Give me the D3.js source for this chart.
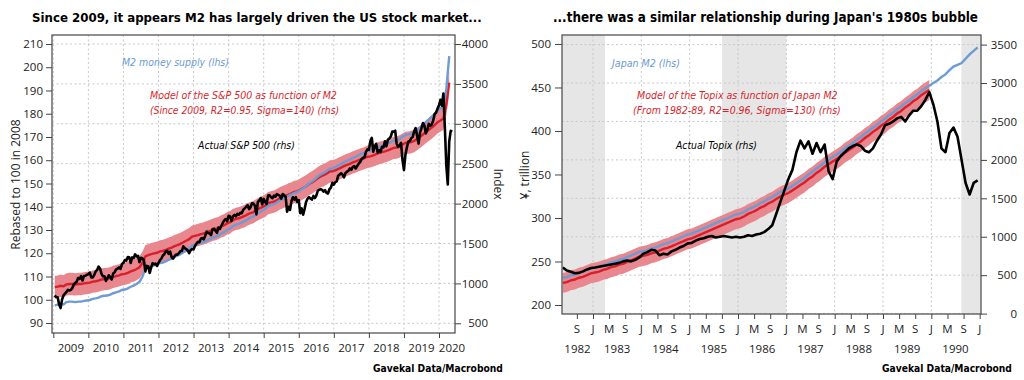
<!DOCTYPE html>
<html>
<head>
<meta charset="utf-8">
<script src="https://cdn.jsdelivr.net/npm/d3@7"></script>
<style>
  body { margin: 0; background: #fff; }
  svg { display: block; }
</style>
</head>
<body>
<div id="chart"></div>
<script>
// ---------- data: US (left panel) ----------
// monthly, Jan 2009 .. Apr 2020, rebased (lhs)
const usM2 = [
  97.6, 97.9, 98.3, 98.0, 99.0, 99.2, 99.2, 99.0, 99.2, 99.2, 99.5, 99.7,
  99.9, 100.4, 100.6, 100.9, 101.5, 101.7, 101.8, 102.2, 102.8, 103.2, 103.6, 104.2,
  104.4, 104.9, 105.6, 106.1, 106.8, 107.7, 109.9, 113.2, 113.9, 114.4, 114.8, 115.1,
  115.8, 116.0, 116.5, 117.2, 117.7, 118.4, 119.0, 119.6, 120.4, 121.2, 122.0, 123.3,
  123.7, 124.1, 124.6, 124.9, 125.5, 126.1, 126.7, 127.2, 127.6, 128.5, 129.1, 130.0,
  130.6, 131.7, 132.3, 132.6, 133.2, 133.8, 134.6, 135.3, 135.8, 136.8, 137.6, 138.3,
  139.0, 140.3, 140.7, 141.1, 141.8, 142.7, 143.3, 144.0, 144.7, 145.3, 146.0, 146.3,
  147.1, 148.0, 148.9, 150.0, 150.8, 151.8, 153.0, 153.9, 154.5, 155.3, 156.3, 156.5,
  157.0, 157.7, 158.4, 159.1, 159.8, 160.3, 161.0, 161.5, 162.2, 162.7, 163.2, 163.9,
  164.1, 164.6, 165.2, 165.8, 166.2, 166.6, 167.2, 167.8, 168.4, 168.6, 169.1, 170.1,
  170.9, 171.1, 171.4, 171.9, 172.9, 174.0, 175.2, 176.4, 177.6, 178.8, 180.0, 181.4,
  182.3, 183.3, 190.6, 204.8
];
// monthly, Jan 2009 .. Apr 2020, model of S&P 500 (rhs)
const spModel = [
  953, 960, 970, 963, 987, 992, 992, 987, 992, 992, 1000, 1005,
  1010, 1022, 1027, 1034, 1049, 1054, 1056, 1066, 1081, 1091, 1101, 1115,
  1120, 1133, 1150, 1162, 1180, 1202, 1256, 1337, 1355, 1367, 1377, 1384,
  1401, 1406, 1419, 1436, 1448, 1466, 1480, 1495, 1515, 1535, 1554, 1586,
  1596, 1606, 1618, 1626, 1641, 1655, 1670, 1682, 1692, 1715, 1729, 1752,
  1766, 1793, 1808, 1816, 1830, 1845, 1865, 1882, 1894, 1919, 1939, 1956,
  1973, 2005, 2015, 2025, 2042, 2065, 2079, 2097, 2114, 2129, 2146, 2153,
  2173, 2195, 2217, 2245, 2264, 2289, 2318, 2341, 2355, 2375, 2400, 2405,
  2417, 2434, 2451, 2469, 2486, 2498, 2516, 2528, 2545, 2558, 2570, 2587,
  2592, 2604, 2619, 2634, 2644, 2654, 2668, 2683, 2698, 2703, 2715, 2740,
  2760, 2765, 2772, 2784, 2809, 2836, 2866, 2895, 2925, 2954, 2984, 3019,
  3041, 3065, 3245, 3515
];
// twice a month (mid, end), Jan 2009 .. early May 2020, S&P 500 (rhs)
const spx = [
  850, 826, 827, 735, 690, 798, 850, 873, 893, 919, 911, 919, 940, 987, 1005, 1021, 1068, 1057, 1090, 1036, 1093, 1096, 1108, 1115,
  1136, 1074, 1075, 1104, 1150, 1169, 1210, 1187, 1120, 1089, 1090, 1031, 1064, 1102, 1080, 1049, 1125, 1141, 1176, 1183, 1200, 1181, 1241, 1258,
  1293, 1286, 1330, 1327, 1256, 1326, 1319, 1364, 1338, 1345, 1267, 1321, 1316, 1292, 1150, 1219, 1216, 1131, 1200, 1253, 1240, 1247, 1220, 1258,
  1290, 1312, 1350, 1366, 1400, 1408, 1370, 1398, 1330, 1310, 1340, 1362, 1360, 1379, 1405, 1407, 1465, 1441, 1430, 1412, 1380, 1416, 1430, 1426,
  1472, 1498, 1520, 1515, 1560, 1569, 1552, 1598, 1650, 1631, 1626, 1606, 1680, 1686, 1661, 1633, 1700, 1682, 1720, 1757, 1790, 1806, 1780, 1848,
  1840, 1783, 1840, 1859, 1840, 1872, 1860, 1884, 1880, 1924, 1940, 1960, 1980, 1931, 1955, 2003, 2000, 1972, 1865, 2018, 2040, 2068, 1990, 2059,
  2020, 1995, 2100, 2105, 2080, 2068, 2100, 2086, 2120, 2107, 2100, 2063, 2120, 2104, 2090, 1900, 1960, 1920, 2030, 2079, 2050, 2080, 2020, 2044,
  1880, 1940, 1860, 1932, 2020, 2060, 2080, 2065, 2050, 2097, 2070, 2099, 2160, 2174, 2180, 2171, 2150, 2168, 2135, 2126, 2180, 2199, 2260, 2239,
  2270, 2279, 2350, 2364, 2380, 2363, 2330, 2384, 2400, 2412, 2440, 2423, 2460, 2470, 2440, 2472, 2500, 2519, 2557, 2575, 2580, 2648, 2680, 2674,
  2780, 2824, 2650, 2714, 2750, 2641, 2670, 2648, 2710, 2705, 2780, 2718, 2800, 2816, 2840, 2902, 2900, 2914, 2750, 2712, 2730, 2760, 2550, 2420,
  2610, 2704, 2775, 2784, 2820, 2834, 2905, 2946, 2850, 2752, 2890, 2942, 3010, 2980, 2880, 2926, 3000, 2977, 2990, 3038, 3120, 3141, 3190, 3231,
  3300, 3226, 3380, 2954, 2480, 2240, 2780, 2912, 2900
];
const usYears = d3.range(2009, 2021);
const usLeftTicks = d3.range(90, 211, 10);
const usRightTicks = d3.range(500, 4001, 500);

// ---------- data: Japan (right panel) ----------
// monthly, May 1982 .. Dec 1990, yen trillion (lhs)
const jpM2 = [
  231, 232, 234, 235, 237, 238, 240, 242,
  243, 244, 246, 247, 249, 250, 252, 253, 255, 257, 259, 261,
  262, 263, 265, 266, 268, 270, 271, 273, 275, 277, 279, 281,
  282, 284, 286, 288, 290, 292, 294, 296, 298, 300, 302, 304,
  305, 307, 310, 312, 314, 317, 319, 322, 324, 327, 330, 332,
  334, 337, 340, 343, 346, 350, 353, 357, 360, 364, 367, 370,
  373, 376, 380, 383, 386, 390, 393, 397, 400, 404, 407, 411,
  414, 418, 421, 425, 428, 432, 435, 439, 442, 446, 449, 452,
  455, 458, 462, 465, 470, 474, 476, 478, 483, 488, 492, 496
];
// monthly, May 1982 .. Dec 1989, model of Topix (rhs)
const topixModel = [
  399, 410, 433, 444, 467, 479, 501, 524,
  535, 547, 569, 581, 604, 615, 638, 649, 672, 694, 717, 740,
  751, 763, 785, 797, 819, 842, 854, 876, 899, 922, 944, 967,
  978, 1001, 1024, 1047, 1069, 1092, 1115, 1138, 1160, 1183, 1206, 1228,
  1240, 1263, 1297, 1319, 1342, 1376, 1399, 1433, 1456, 1490, 1524, 1547,
  1569, 1603, 1637, 1672, 1706, 1751, 1785, 1831, 1865, 1910, 1944, 1978,
  2012, 2046, 2092, 2126, 2160, 2206, 2240, 2285, 2319, 2365, 2399, 2444,
  2478, 2524, 2558, 2603, 2637, 2683, 2717, 2762, 2796, 2842, 2876, 2910
];
// monthly, May 1982 .. Dec 1990, Topix (rhs)
const topix = [
  600, 560, 545, 525, 530, 550, 575, 593,
  600, 610, 620, 630, 640, 650, 660, 680, 690, 680, 700, 731,
  780, 800, 830, 820, 760, 780, 770, 810, 830, 860, 880, 913,
  920, 950, 970, 980, 1000, 1010, 990, 1000, 1010, 1000, 990, 1000,
  990, 1000, 1020, 1010, 1030, 1040, 1060, 1100, 1150, 1300, 1450, 1600,
  1750, 1870, 2100, 2250, 2150, 2240, 2080, 2220, 2100, 2200, 1850, 1750,
  1980, 2050, 2100, 2150, 2180, 2200, 2180, 2120, 2100, 2150, 2250, 2330,
  2450, 2470, 2500, 2540, 2560, 2500, 2580, 2640, 2640, 2700, 2780, 2881,
  2720, 2500, 2150, 2100, 2350, 2420, 2300, 2000, 1700, 1550, 1700, 1733
];
const jpShade = [[1982.0, 1983.25], [1985.67, 1987.0], [1990.62, 1991.2]];
const jpYears = d3.range(1982, 1991);
const jpMonthTicks = [1, 5, 9];
const jpMonthLetters = { 1: 'J', 5: 'M', 9: 'S' };
const jpLeftTicks = d3.range(200, 501, 50);
const jpRightTicks = d3.range(0, 3501, 500);

// ---------- look ----------
const blue = '#6d9bd3';
const red = '#d81f2c';
const bandColor = '#e9878e';
const gridColor = '#c8c8c8';
const shadeColor = '#e6e6e6';
const axisColor = '#444';

function hasFont(name) {
  const ctx = document.createElement('canvas').getContext('2d');
  const s = 'abcdefghijklmnopqrstuvwxyz0123456789';
  ctx.font = '20px monospace';
  const a = ctx.measureText(s).width;
  ctx.font = `20px '${name}', monospace`;
  return ctx.measureText(s).width !== a;
}
const narrowFont = ['Liberation Sans Narrow', 'DejaVu Sans Condensed'].find(hasFont) || 'Liberation Sans';
const tickFont = "'Open Sans', sans-serif";

const svg = d3.select('#chart')
  .append('svg')
  .attr('width', 1024)
  .attr('height', 380);

// sets the font size so the text is w pixels wide
function fitText(g, str, x, y, w, opts) {
  const t = g.append('text')
    .attr('x', x)
    .attr('y', y)
    .style('font-family', `'${narrowFont}', sans-serif`)
    .style('font-size', '20px')
    .style('font-weight', opts.weight || 'normal')
    .style('font-style', opts.italic ? 'italic' : 'normal')
    .attr('fill', opts.color || '#000')
    .text(str);
  const len = t.node().getComputedTextLength();
  t.style('font-size', (20 * w / len).toFixed(2) + 'px');
  return t;
}

function styleAxis(sel) {
  sel.select('.domain').remove();
  sel.selectAll('line').attr('stroke', axisColor).attr('stroke-width', 1);
  sel.selectAll('text')
    .style('font-family', tickFont)
    .style('font-size', '11.5px')
    .attr('fill', '#222');
}

// ============ LEFT PANEL: US ============
const L = { x0: 52, x1: 455, y0: 35, y1: 333 };
const xUS = d3.scaleLinear().domain([2008.963, 2020.456]).range([L.x0, L.x1]);
const yUSL = d3.scaleLinear().domain([85.7, 213.87]).range([L.y1, L.y0]);
const yUSR = d3.scaleLinear().domain([378.4, 4112.8]).range([L.y1, L.y0]);
const usMonth = (d, i) => 2009 + (i + 0.5) / 12;
const spxDate = (d, i) => 2009 + (i + 1) / 24;

svg.append('clipPath').attr('id', 'clipL')
  .append('rect').attr('x', L.x0).attr('y', L.y0).attr('width', L.x1 - L.x0).attr('height', L.y1 - L.y0);

const gL = svg.append('g');
const plotL = gL.append('g').attr('clip-path', 'url(#clipL)');

// grid
plotL.selectAll('.vgrid').data(usYears).enter().append('line')
  .attr('x1', d => xUS(d)).attr('x2', d => xUS(d))
  .attr('y1', L.y0).attr('y2', L.y1)
  .attr('stroke', gridColor).attr('stroke-dasharray', '2,2.5');
plotL.selectAll('.hgrid').data(usRightTicks).enter().append('line')
  .attr('x1', L.x0).attr('x2', L.x1)
  .attr('y1', d => yUSR(d)).attr('y2', d => yUSR(d))
  .attr('stroke', gridColor).attr('stroke-dasharray', '2,2.5');

// model band, model, M2, index
plotL.append('path')
  .datum(spModel)
  .attr('fill', bandColor)
  .attr('d', d3.area().x((d, i) => xUS(usMonth(d, i))).y0(d => yUSR(d - 140)).y1(d => yUSR(d + 140)));
plotL.append('path')
  .datum(spModel)
  .attr('fill', 'none').attr('stroke', red).attr('stroke-width', 2.4)
  .attr('d', d3.line().x((d, i) => xUS(usMonth(d, i))).y(d => yUSR(d)));
plotL.append('path')
  .datum(usM2)
  .attr('fill', 'none').attr('stroke', blue).attr('stroke-width', 2.4)
  .attr('d', d3.line().x((d, i) => xUS(usMonth(d, i))).y(d => yUSL(d)));
plotL.append('path')
  .datum(spx)
  .attr('fill', 'none').attr('stroke', '#000').attr('stroke-width', 2.6)
  .attr('stroke-linejoin', 'round')
  .attr('d', d3.line().x((d, i) => xUS(spxDate(d, i))).y(d => yUSR(d)));

// frame
gL.append('rect')
  .attr('x', L.x0).attr('y', L.y0).attr('width', L.x1 - L.x0).attr('height', L.y1 - L.y0)
  .attr('fill', 'none').attr('stroke', '#555').attr('stroke-width', 1.3);

// axes
gL.append('g').attr('transform', `translate(${L.x0},0)`)
  .call(d3.axisLeft(yUSL).tickValues(usLeftTicks).tickSize(6).tickPadding(3).tickFormat(d3.format('d')))
  .call(styleAxis);
gL.append('g').attr('transform', `translate(${L.x1},0)`)
  .call(d3.axisRight(yUSR).tickValues(usRightTicks).tickSize(6).tickFormat(d3.format('d')))
  .call(styleAxis)
  .call(g => g.selectAll('text').attr('text-anchor', 'end').attr('x', 33));
gL.append('g').attr('transform', `translate(0,${L.y1})`)
  .call(d3.axisBottom(xUS).tickValues(usYears).tickSize(5).tickFormat(''))
  .call(styleAxis);
gL.selectAll('.yearLabel').data(usYears).enter().append('text')
  .attr('x', d => Math.max(xUS((d + Math.min(d + 1, xUS.domain()[1])) / 2), xUS(d) + 13))
  .attr('y', 351.5)
  .attr('text-anchor', 'middle')
  .style('font-family', tickFont).style('font-size', '11.5px').attr('fill', '#222')
  .text(d => d);

// axis titles
gL.append('text')
  .attr('transform', 'translate(19.5,184.5) rotate(-90)')
  .attr('text-anchor', 'middle')
  .style('font-family', tickFont).style('font-size', '12px').attr('fill', '#222')
  .text('Rebased to 100 in 2008');
gL.append('text')
  .attr('transform', 'translate(494,184) rotate(90)')
  .attr('text-anchor', 'middle')
  .style('font-family', tickFont).style('font-size', '12px').attr('fill', '#222')
  .text('Index');

// titles and notes
fitText(gL, 'Since 2009, it appears M2 has largely driven the US stock market...', 32, 22, 450, { weight: 'bold' });
fitText(gL, 'M2 money supply (lhs)', 122, 66, 107, { italic: true, color: blue });
fitText(gL, 'Model of the S&P 500 as function of M2', 150, 99, 187, { italic: true, color: red });
fitText(gL, '(Since 2009, R2=0.95, Sigma=140) (rhs)', 150, 114, 189, { italic: true, color: red });
fitText(gL, 'Actual S&P 500 (rhs)', 198, 149, 97, { italic: true });
fitText(gL, 'Gavekal Data/Macrobond', 373, 372, 130, { weight: 'bold' });

// ============ RIGHT PANEL: Japan ============
const R = { x0: 562, x1: 981, y0: 35, y1: 314 };
const xJP = d3.scaleLinear().domain([1982.359, 1991.027]).range([R.x0, R.x1]);
const yJPL = d3.scaleLinear().domain([189.66, 510.3]).range([R.y1, R.y0]);
const yJPR = d3.scaleLinear().domain([-5, 3625]).range([R.y1, R.y0]);
const jpMonth = (d, i) => 1982 + (i + 4 + 0.5) / 12;

svg.append('clipPath').attr('id', 'clipR')
  .append('rect').attr('x', R.x0).attr('y', R.y0).attr('width', R.x1 - R.x0).attr('height', R.y1 - R.y0);

const gR = svg.append('g');
const plotR = gR.append('g').attr('clip-path', 'url(#clipR)');

plotR.selectAll('.shade').data(jpShade).enter().append('rect')
  .attr('x', d => xJP(d[0])).attr('width', d => xJP(d[1]) - xJP(d[0]))
  .attr('y', R.y0).attr('height', R.y1 - R.y0)
  .attr('fill', shadeColor);

const jpJan = d3.range(1983, 1991);
plotR.selectAll('.vgrid').data(jpJan).enter().append('line')
  .attr('x1', d => xJP(d)).attr('x2', d => xJP(d))
  .attr('y1', R.y0).attr('y2', R.y1)
  .attr('stroke', gridColor).attr('stroke-dasharray', '2,2.5');
plotR.selectAll('.hgrid').data(jpRightTicks).enter().append('line')
  .attr('x1', R.x0).attr('x2', R.x1)
  .attr('y1', d => yJPR(d)).attr('y2', d => yJPR(d))
  .attr('stroke', gridColor).attr('stroke-dasharray', '2,2.5');

plotR.append('path')
  .datum(topixModel)
  .attr('fill', bandColor)
  .attr('d', d3.area().x((d, i) => xJP(jpMonth(d, i))).y0(d => yJPR(d - 130)).y1(d => yJPR(d + 130)));
plotR.append('path')
  .datum(topixModel)
  .attr('fill', 'none').attr('stroke', red).attr('stroke-width', 2.4)
  .attr('d', d3.line().x((d, i) => xJP(jpMonth(d, i))).y(d => yJPR(d)));
plotR.append('path')
  .datum(jpM2)
  .attr('fill', 'none').attr('stroke', blue).attr('stroke-width', 2.4)
  .attr('d', d3.line().x((d, i) => xJP(jpMonth(d, i))).y(d => yJPL(d)));
plotR.append('path')
  .datum(topix)
  .attr('fill', 'none').attr('stroke', '#000').attr('stroke-width', 2.6)
  .attr('stroke-linejoin', 'round')
  .attr('d', d3.line().x((d, i) => xJP(jpMonth(d, i))).y(d => yJPR(d)));

gR.append('rect')
  .attr('x', R.x0).attr('y', R.y0).attr('width', R.x1 - R.x0).attr('height', R.y1 - R.y0)
  .attr('fill', 'none').attr('stroke', '#555').attr('stroke-width', 1.3);

gR.append('g').attr('transform', `translate(${R.x0},0)`)
  .call(d3.axisLeft(yJPL).tickValues(jpLeftTicks).tickSize(7).tickPadding(4).tickFormat(d3.format('d')))
  .call(styleAxis);
gR.append('g').attr('transform', `translate(${R.x1},0)`)
  .call(d3.axisRight(yJPR).tickValues(jpRightTicks).tickSize(6).tickFormat(d3.format('d')))
  .call(styleAxis)
  .call(g => g.selectAll('text').attr('text-anchor', 'end').attr('x', 36));

const jpTickDates = [];
jpYears.concat([1991]).forEach(y => jpMonthTicks.forEach(m => {
  const t = y + (m - 1) / 12;
  if (t >= xJP.domain()[0] && t <= xJP.domain()[1] + 0.001) jpTickDates.push({ t, m });
}));
gR.append('g').attr('transform', `translate(0,${R.y1})`)
  .call(d3.axisBottom(xJP).tickValues(jpTickDates.map(d => d.t)).tickSize(5).tickFormat(''))
  .call(styleAxis);
gR.selectAll('.monthLabel').data(jpTickDates).enter().append('text')
  .attr('x', d => xJP(d.t))
  .attr('y', 332.5)
  .attr('text-anchor', 'middle')
  .style('font-family', tickFont).style('font-size', '11.5px').attr('fill', '#222')
  .text(d => jpMonthLetters[d.m]);
gR.selectAll('.yearLabel').data(jpYears).enter().append('text')
  .attr('x', d => xJP((Math.max(d, xJP.domain()[0]) + Math.min(d + 1, xJP.domain()[1])) / 2))
  .attr('y', 352.5)
  .attr('text-anchor', 'middle')
  .style('font-family', tickFont).style('font-size', '11.5px').attr('fill', '#222')
  .text(d => d);

gR.append('text')
  .attr('transform', 'translate(529,175) rotate(-90)')
  .attr('text-anchor', 'middle')
  .style('font-family', tickFont).style('font-size', '12px').attr('fill', '#222')
  .text('¥, trillion');

fitText(gR, "...there was a similar relationship during Japan's 1980s bubble", 553, 22, 425, { weight: 'bold' });
fitText(gR, 'Japan M2 (lhs)', 612, 67, 68, { italic: true, color: blue });
fitText(gR, 'Model of the Topix as function of Japan M2', 637, 99, 201, { italic: true, color: red });
fitText(gR, '(From 1982-89, R2=0.96, Sigma=130) (rhs)', 633, 114, 208, { italic: true, color: red });
fitText(gR, 'Actual Topix (rhs)', 676, 149, 81, { italic: true });
fitText(gR, 'Gavekal Data/Macrobond', 882, 372, 130, { weight: 'bold' });
</script>
</body>
</html>
